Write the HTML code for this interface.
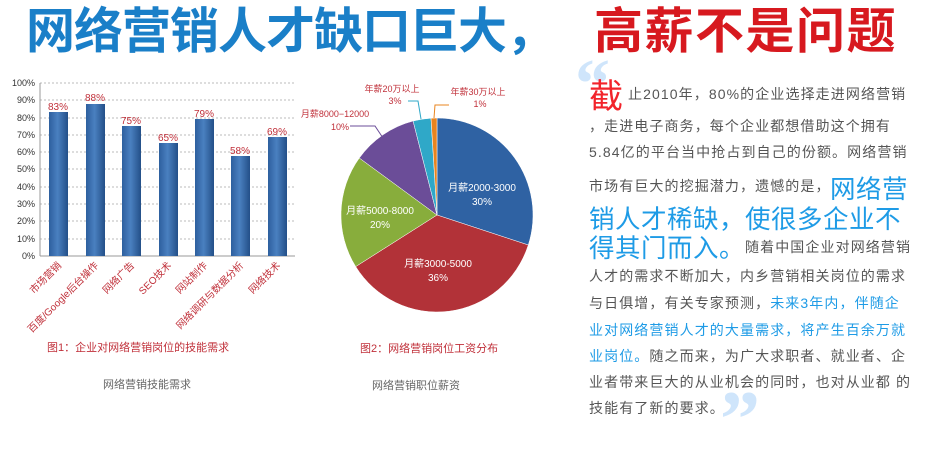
<!DOCTYPE html>
<html><head><meta charset="utf-8"><style>
body{margin:0;width:949px;height:430px;background:#fff;position:relative;overflow:hidden;font-family:"Liberation Sans","Noto Sans CJK SC",sans-serif}
.a{position:absolute;white-space:nowrap}
.t{font-size:14px;color:#555;letter-spacing:1.1px}
.b{color:#1e9be6}
.big{font-size:25.5px;color:#1e9be6;letter-spacing:0.5px}
</style></head><body>
<div class="a" style="left:26px;top:2px;font-size:49px;font-weight:bold;color:#1a7fc8;letter-spacing:-1px;line-height:60px">网络营销人才缺口巨大，</div>
<div class="a" style="left:594px;top:2px;font-size:49px;font-weight:bold;color:#d7191f;letter-spacing:1.5px;line-height:60px">高薪不是问题</div>

<svg class="a" style="left:0;top:0" width="580" height="430" font-family="Liberation Sans,Noto Sans CJK SC,sans-serif">
<defs><linearGradient id="bg" x1="0" x2="1"><stop offset="0" stop-color="#2d5f9e"/><stop offset="0.45" stop-color="#4a80c0"/><stop offset="1" stop-color="#234f88"/></linearGradient></defs>
<g stroke="#bbb" stroke-dasharray="2,2" stroke-width="1">
<line x1="40" x2="295" y1="83" y2="83"/><line x1="40" x2="295" y1="100" y2="100"/><line x1="40" x2="295" y1="118" y2="118"/><line x1="40" x2="295" y1="135" y2="135"/><line x1="40" x2="295" y1="152" y2="152"/><line x1="40" x2="295" y1="169" y2="169"/><line x1="40" x2="295" y1="187" y2="187"/><line x1="40" x2="295" y1="204" y2="204"/><line x1="40" x2="295" y1="221" y2="221"/><line x1="40" x2="295" y1="239" y2="239"/></g>
<line x1="40" x2="295" y1="256" y2="256" stroke="#999"/><line x1="40" x2="40" y1="83" y2="256" stroke="#999"/>
<g font-size="9" fill="#333" text-anchor="end">
<text x="35" y="86">100%</text><text x="35" y="103">90%</text><text x="35" y="121">80%</text><text x="35" y="138">70%</text><text x="35" y="155">60%</text><text x="35" y="172">50%</text><text x="35" y="190">40%</text><text x="35" y="207">30%</text><text x="35" y="224">20%</text><text x="35" y="242">10%</text><text x="35" y="259">0%</text></g>
<g fill="url(#bg)">
<rect x="49" y="112" width="19" height="144"/><rect x="86" y="104" width="19" height="152"/><rect x="122" y="126" width="19" height="130"/><rect x="159" y="143" width="19" height="113"/><rect x="195" y="119" width="19" height="137"/><rect x="231" y="156" width="19" height="100"/><rect x="268" y="137" width="19" height="119"/></g>
<g font-size="10" fill="#c0303a" text-anchor="middle">
<text x="58" y="110">83%</text><text x="95" y="101">88%</text><text x="131" y="124">75%</text><text x="168" y="141">65%</text><text x="204" y="117">79%</text><text x="240" y="154">58%</text><text x="277" y="135">69%</text></g>
<g font-size="10" fill="#c0303a" text-anchor="end">
<text transform="translate(62,266) rotate(-45)">市场营销</text>
<text transform="translate(99,266) rotate(-45)">百度/Google后台操作</text>
<text transform="translate(135,266) rotate(-45)">网络广告</text>
<text transform="translate(172,266) rotate(-45)">SEO技术</text>
<text transform="translate(208,266) rotate(-45)">网站制作</text>
<text transform="translate(244,266) rotate(-45)">网络调研与数据分析</text>
<text transform="translate(281,266) rotate(-45)">网络技术</text></g>
<text x="47" y="351" font-size="11" fill="#c0303a">图1：企业对网络营销岗位的技能需求</text>
<text x="103" y="388" font-size="11" fill="#666">网络营销技能需求</text>

<g transform="translate(437,215)" stroke="#fff" stroke-width="0.5">
<path d="M0,0 L0,-97 A96,97 0 0,1 91.3,30 Z" fill="#2f62a3"/>
<path d="M0,0 L91.3,30 A96,97 0 0,1 -81.3,51.6 Z" fill="#b23238"/>
<path d="M0,0 L-81.3,51.6 A96,97 0 0,1 -77.7,-57 Z" fill="#88ad3c"/>
<path d="M0,0 L-77.7,-57 A96,97 0 0,1 -23.9,-94 Z" fill="#6b4d98"/>
<path d="M0,0 L-23.9,-94 A96,97 0 0,1 -6,-96.8 Z" fill="#2fa8c8"/>
<path d="M0,0 L-6,-96.8 A96,97 0 0,1 0,-97 Z" fill="#e8841f"/>
</g>
<g font-size="10" fill="#fff" text-anchor="middle">
<text x="482" y="191">月薪2000-3000</text><text x="482" y="205">30%</text>
<text x="438" y="267">月薪3000-5000</text><text x="438" y="281">36%</text>
<text x="380" y="214">月薪5000-8000</text><text x="380" y="228">20%</text></g>
<g font-size="9" fill="#c0303a" text-anchor="middle">
<text x="335" y="117">月薪8000−12000</text><text x="340" y="130">10%</text>
<text x="392" y="92">年薪20万以上</text><text x="395" y="104">3%</text>
<text x="478" y="95">年薪30万以上</text><text x="480" y="107">1%</text></g>
<g stroke="#6b4d98" fill="none"><polyline points="350,126 375,126 383,138"/></g>
<g stroke="#2fa8c8" fill="none"><polyline points="408,101 418,101 421,119"/></g>
<g stroke="#e8841f" fill="none"><polyline points="449,105 435,105 434,118"/></g>
<text x="360" y="352" font-size="11" fill="#c0303a">图2：网络营销岗位工资分布</text>
<text x="372" y="389" font-size="11" fill="#666">网络营销职位薪资</text>
</svg>

<div class="a" style="left:575px;top:50px;font-size:70px;color:#cfe5fb;font-family:'Liberation Serif',serif;font-weight:bold;line-height:70px">“</div>
<div class="a" style="left:720px;top:380px;font-size:80px;color:#cfe5fb;font-family:'Liberation Serif',serif;font-weight:bold;line-height:80px">”</div>
<div class="a" style="left:589px;top:77px;font-size:34px;color:#f2242b;line-height:40px">截</div>
<div class="a t" style="left:628px;top:84px">止2010年，80%的企业选择走进网络营销</div>
<div class="a t" style="left:589px;top:116px">，走进电子商务，每个企业都想借助这个拥有</div>
<div class="a t" style="left:589px;top:142px">5.84亿的平台当中抢占到自己的份额。网络营销</div>
<div class="a t" style="left:589px;top:176px">市场有巨大的挖掘潜力，遗憾的是，</div>
<div class="a big" style="left:830px;top:169px">网络营</div>
<div class="a big" style="left:589px;top:199px">销人才稀缺，使很多企业不</div>
<div class="a big" style="left:589px;top:228px">得其门而入。</div>
<div class="a t" style="left:745px;top:237px">随着中国企业对网络营销</div>
<div class="a t" style="left:589px;top:266px">人才的需求不断加大，内乡营销相关岗位的需求</div>
<div class="a t" style="left:589px;top:293px">与日俱增，有关专家预测，<span class="b">未来3年内，伴随企</span></div>
<div class="a t b" style="left:589px;top:320px">业对网络营销人才的大量需求，将产生百余万就</div>
<div class="a t" style="left:589px;top:346px"><span class="b">业岗位。</span>随之而来，为广大求职者、就业者、企</div>
<div class="a t" style="left:589px;top:372px">业者带来巨大的从业机会的同时，也对从业都 的</div>
<div class="a t" style="left:589px;top:398px">技能有了新的要求。</div>
</body></html>
